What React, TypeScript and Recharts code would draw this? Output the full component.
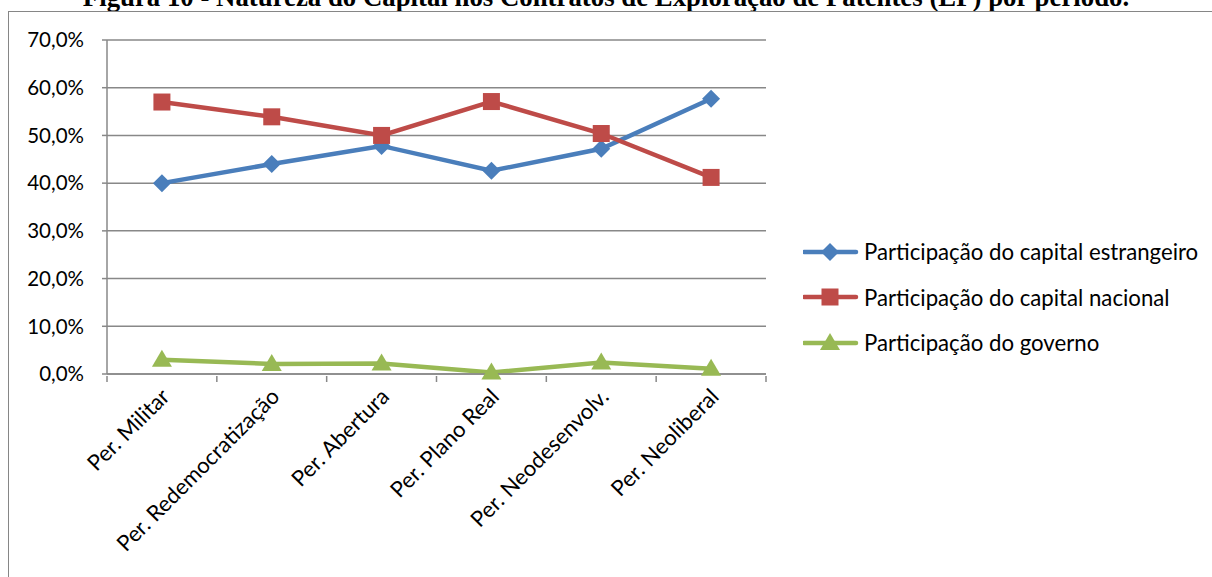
import { LineChart, Line, XAxis, YAxis, CartesianGrid } from "recharts"

const categories = [
  "Per. Militar",
  "Per. Redemocratização",
  "Per. Abertura",
  "Per. Plano Real",
  "Per. Neodesenvolv.",
  "Per. Neoliberal",
]
const foreign = [40.0, 44.0, 47.8, 42.6, 47.2, 57.7]
const national = [57.0, 53.9, 50.0, 57.1, 50.4, 41.2]
const government = [3.0, 2.1, 2.2, 0.3, 2.4, 1.1]
const yTicks = [0, 10, 20, 30, 40, 50, 60, 70]

const seriesNames = {
  foreign: "Participação do capital estrangeiro",
  national: "Participação do capital nacional",
  government: "Participação do governo",
}

const data = categories.map((name, i) => ({
  name,
  foreign: foreign[i],
  national: national[i],
  government: government[i],
}))

const BLUE = "#4A7EBB"
const RED = "#BE4B48"
const GREEN = "#98B954"
const GRID = "#888888"
const FONT = "Lato, 'Open Sans', sans-serif"

function Marker({ kind, cx, cy, color }: { kind: string; cx: number; cy: number; color: string }) {
  if (kind === "diamond") {
    const r = 9
    return <polygon points={`${cx},${cy - r} ${cx + r},${cy} ${cx},${cy + r} ${cx - r},${cy}`} fill={color} />
  }
  if (kind === "square") {
    const h = 8.5
    return <rect x={cx - h} y={cy - h} width={h * 2} height={h * 2} fill={color} />
  }
  return <polygon points={`${cx},${cy - 10} ${cx + 10},${cy + 7} ${cx - 10},${cy + 7}`} fill={color} />
}

const makeDot = (kind: string, color: string) => (p: any) =>
  <Marker key={`${kind}-${p.index}`} kind={kind} cx={p.cx} cy={p.cy} color={color} />

function XTick(props: any) {
  const { x, y, payload, index, visibleTicksCount } = props
  const half = payload.offset || 55
  const tx = x + 9
  const ty = y + 22
  return (
    <g>
      <line x1={x - half} x2={x - half} y1={y} y2={y + 6} stroke={GRID} strokeWidth={1.5} />
      {index === visibleTicksCount - 1 && (
        <line x1={x + half} x2={x + half} y1={y} y2={y + 6} stroke={GRID} strokeWidth={1.5} />
      )}
      <text
        x={tx}
        y={ty}
        textAnchor="end"
        transform={`rotate(-45, ${tx}, ${ty})`}
        fontSize={22}
        fontFamily={FONT}
        fill="#000"
      >
        {payload.value}
      </text>
    </g>
  )
}

const legendItems = [
  { key: "foreign", kind: "diamond", color: BLUE },
  { key: "national", kind: "square", color: RED },
  { key: "government", kind: "triangle", color: GREEN },
]

function LegendBox() {
  return (
    <div style={{ position: "absolute", left: 803, top: 229, fontFamily: FONT, fontSize: 22.2, color: "#000", whiteSpace: "nowrap" }}>
      {legendItems.map((it) => (
        <div key={it.key} style={{ display: "flex", alignItems: "center", height: 45.5 }}>
          <svg width={58} height={22} style={{ marginRight: 3 }}>
            <line x1={1} x2={53} y1={11} y2={11} stroke={it.color} strokeWidth={4.5} strokeLinecap="round" />
            <Marker kind={it.kind} cx={27} cy={11} color={it.color} />
          </svg>
          <span>{(seriesNames as any)[it.key]}</span>
        </div>
      ))}
    </div>
  )
}

export default function App() {
  return (
    <div style={{ position: "absolute", left: 0, top: 0, width: 1212, height: 577, overflow: "hidden", background: "#fff" }}>
      <div
        style={{
          position: "absolute",
          left: 0,
          width: 1212,
          top: -18,
          textAlign: "center",
          fontFamily: "'Liberation Serif', serif",
          fontWeight: "bold",
          fontSize: 26.8,
          whiteSpace: "nowrap",
        }}
      >
        Figura 10 - Natureza do Capital nos Contratos de Exploração de Patentes (EP) por período.
      </div>
      <div
        style={{
          position: "absolute",
          left: 8,
          top: 11,
          width: 1220,
          height: 600,
          borderLeft: "1px solid #868686",
          borderTop: "1px solid #868686",
        }}
      />
      <div style={{ position: "absolute", left: 0, top: 0 }}>
        <LineChart width={1212} height={577} data={data} margin={{ top: 40, right: 446, bottom: 3, left: 7 }}>
          <CartesianGrid horizontal vertical={false} stroke={GRID} strokeWidth={1.5} />
          <XAxis
            dataKey="name"
            scale="band"
            interval={0}
            tickSize={0}
            tickLine={false}
            axisLine={{ stroke: GRID, strokeWidth: 1.5 }}
            tick={<XTick />}
            height={200}
          />
          <YAxis
            domain={[0, 70]}
            ticks={yTicks}
            width={100}
            tickSize={5}
            tickMargin={18}
            tickLine={{ stroke: GRID, strokeWidth: 1.5 }}
            axisLine={{ stroke: GRID, strokeWidth: 1.5 }}
            tickFormatter={(v: number) => v.toFixed(1).replace(".", ",") + "%"}
            tick={{ fontSize: 20.5, fontFamily: FONT, fill: "#000" }}
          />
          <Line dataKey="foreign" name={seriesNames.foreign} stroke={BLUE} strokeWidth={4.5} dot={makeDot("diamond", BLUE)} isAnimationActive={false} />
          <Line dataKey="national" name={seriesNames.national} stroke={RED} strokeWidth={4.5} dot={makeDot("square", RED)} isAnimationActive={false} />
          <Line dataKey="government" name={seriesNames.government} stroke={GREEN} strokeWidth={4.5} dot={makeDot("triangle", GREEN)} isAnimationActive={false} />
        </LineChart>
      </div>
      <LegendBox />
    </div>
  )
}
